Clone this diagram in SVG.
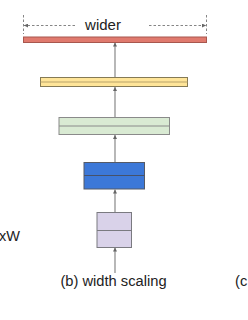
<svg xmlns="http://www.w3.org/2000/svg" width="248" height="320" viewBox="0 0 248 320">
<defs>
<style>
.lbl{font-family:"Liberation Sans",Arial,sans-serif;fill:#222}
.box{stroke-width:1}
.conn{stroke:#888;stroke-width:1.2;fill:none}
.dash{stroke:#777;stroke-width:0.9;stroke-dasharray:2.5,2;fill:none}
.div{stroke-width:1}
</style>
<marker id="ah" viewBox="0 0 6 6" refX="6" refY="3" markerWidth="4" markerHeight="4" orient="auto" markerUnits="userSpaceOnUse">
<path d="M0,0 L6,3 L0,6 Z" fill="#666"/>
</marker>
</defs>
<rect width="248" height="320" fill="#ffffff"/>
<g id="connectors">
<line class="conn" x1="115" y1="273" x2="115" y2="247.5" marker-end="url(#ah)"/>
<line class="conn" x1="115" y1="212.5" x2="115" y2="189.5" marker-end="url(#ah)"/>
<line class="conn" x1="115" y1="162" x2="115" y2="135" marker-end="url(#ah)"/>
<line class="conn" x1="115" y1="117" x2="115" y2="87" marker-end="url(#ah)"/>
<line class="conn" x1="115" y1="77.5" x2="115" y2="42.5" marker-end="url(#ah)"/>
</g>
<g id="wider">
<line class="dash" x1="23.5" y1="15" x2="23.5" y2="34"/>
<line class="dash" x1="206.5" y1="15" x2="206.5" y2="34"/>
<line class="dash" x1="75" y1="25.5" x2="24" y2="25.5" marker-end="url(#ah)"/>
<line class="dash" x1="149" y1="25.5" x2="206" y2="25.5" marker-end="url(#ah)"/>
<text class="lbl" x="103" y="29.7" font-size="15" text-anchor="middle">wider</text>
</g>
<g id="red">
<rect class="box" x="23.5" y="37" width="183" height="5.5" fill="#e07a6e" stroke="#a8574e"/>
</g>
<g id="yellow">
<rect class="box" x="40.5" y="77.5" width="147" height="9" fill="#ffe599" stroke="#857a55"/>
<line class="div" x1="40.5" y1="82" x2="187.5" y2="82" stroke="#b9a36a"/>
</g>
<g id="green">
<rect class="box" x="59" y="117.5" width="110.5" height="17" fill="#d9ead3" stroke="#8a8a8a"/>
<line class="div" x1="59" y1="126" x2="169.5" y2="126" stroke="#8a8a8a"/>
</g>
<g id="blue">
<rect class="box" x="84" y="162.5" width="60.5" height="26.5" fill="#3c78d8" stroke="#555a66"/>
<line class="div" x1="84" y1="175.5" x2="144.5" y2="175.5" stroke="#46526a"/>
</g>
<g id="purple">
<rect class="box" x="97" y="212.5" width="34.5" height="35" fill="#d9d2e9" stroke="#7a7a80"/>
<line class="div" x1="97" y1="230.5" x2="131.5" y2="230.5" stroke="#7a7a80"/>
</g>
<text class="lbl" x="20" y="241" font-size="14.5" text-anchor="end">xW</text>
<text class="lbl" x="113.5" y="285.7" font-size="14.7" text-anchor="middle">(b) width scaling</text>
<text class="lbl" x="235" y="285.7" font-size="14.7">(c</text>
</svg>
